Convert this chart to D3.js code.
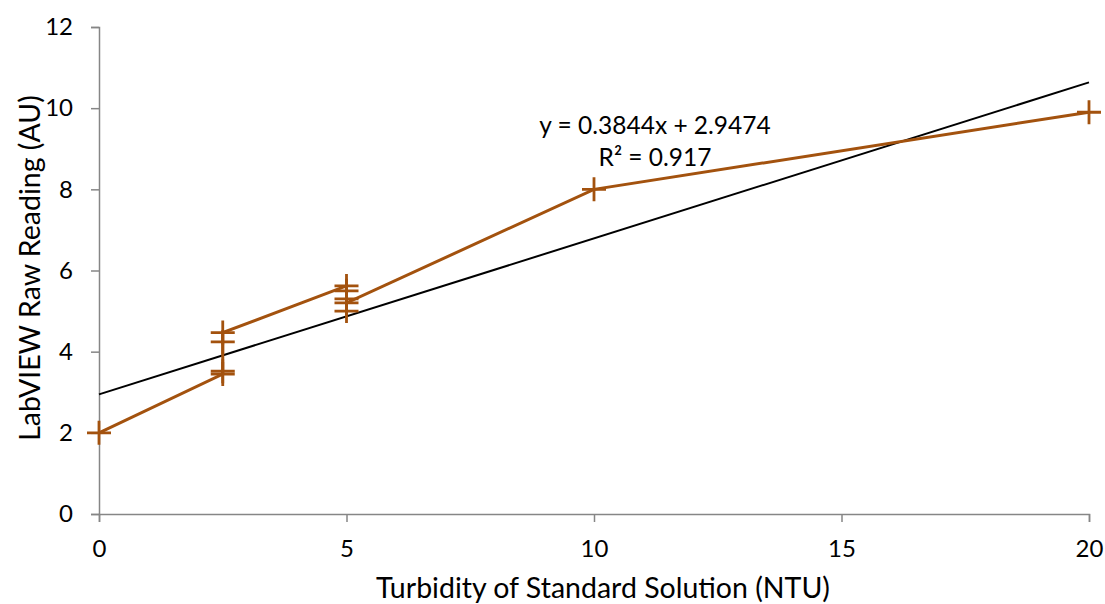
<!DOCTYPE html>
<html>
<head>
<meta charset="utf-8">
<script src="https://cdn.jsdelivr.net/npm/d3@7"></script>
<style>
  html, body { margin: 0; padding: 0; background: #fff; }
  svg text { font-family: Lato, "Open Sans", sans-serif; fill: #000; }
</style>
</head>
<body>
<svg id="chart" width="1105" height="604"></svg>
<script>
// Turbidity standards (NTU) and the matching LabVIEW raw readings, in run order
const turbidity = [0, 2.5, 2.5, 2.5, 2.5, 5, 5, 5, 5, 5, 10, 20];
const rawReading = [2.0, 3.45, 3.52, 4.24, 4.47, 5.62, 5.5, 5.3, 5.0, 5.2, 8.0, 9.9];

// Linear trendline reported on the chart
const trendSlope = 0.3844;
const trendIntercept = 2.9474;
const trendR2 = 0.917;

const xTicks = [0, 5, 10, 15, 20];
const yTicks = [0, 2, 4, 6, 8, 10, 12];

const svg = d3.select("#chart");
const margin = { left: 99, right: 16, top: 27, bottom: 90 };
const W = 1105, H = 604;

const x = d3.scaleLinear().domain([0, 20]).range([margin.left, W - margin.right]);
const y = d3.scaleLinear().domain([0, 12]).range([H - margin.bottom, margin.top]);

const axisColor = "#868686";
const seriesColor = "#A3520E";

// Y axis
const yAxis = svg.append("g")
  .attr("transform", `translate(${x(0)},0)`)
  .call(d3.axisLeft(y).tickValues(yTicks).tickSize(8).tickPadding(18).tickFormat(d3.format("d")));
yAxis.select(".domain").attr("stroke", axisColor).attr("stroke-width", 1.5);
yAxis.selectAll(".tick line").attr("stroke", axisColor).attr("stroke-width", 1.5);
yAxis.selectAll(".tick text").attr("font-size", 24).attr("font-family", "Lato, sans-serif");

// X axis
const xAxis = svg.append("g")
  .attr("transform", `translate(0,${y(0)})`)
  .call(d3.axisBottom(x).tickValues(xTicks).tickSize(8).tickPadding(18).tickFormat(d3.format("d")));
xAxis.select(".domain").attr("stroke", axisColor).attr("stroke-width", 1.5);
xAxis.selectAll(".tick line").attr("stroke", axisColor).attr("stroke-width", 1.5);
xAxis.selectAll(".tick text").attr("font-size", 24).attr("font-family", "Lato, sans-serif");

// Axis titles
svg.append("text")
  .attr("x", 603)
  .attr("y", 598)
  .attr("text-anchor", "middle")
  .attr("font-size", 28.5)
  .text("Turbidity of Standard Solution (NTU)");

svg.append("text")
  .attr("transform", `translate(40,268) rotate(-90)`)
  .attr("text-anchor", "middle")
  .attr("font-size", 28.5)
  .text("LabVIEW Raw Reading (AU)");

// Trendline
svg.append("line")
  .attr("x1", x(0)).attr("y1", y(trendIntercept))
  .attr("x2", x(20)).attr("y2", y(trendSlope * 20 + trendIntercept))
  .attr("stroke", "#000").attr("stroke-width", 2);

// Data series line
const pts = turbidity.map((t, i) => [t, rawReading[i]]);
svg.append("path")
  .datum(pts)
  .attr("fill", "none")
  .attr("stroke", seriesColor)
  .attr("stroke-width", 3)
  .attr("d", d3.line().x(d => x(d[0])).y(d => y(d[1])));

// Plus markers
const m = 12;
const marks = svg.append("g").attr("stroke", seriesColor).attr("stroke-width", 2.8);
marks.selectAll("path.mk")
  .data(pts)
  .join("path")
  .attr("class", "mk")
  .attr("fill", "none")
  .attr("d", d => {
    const cx = x(d[0]), cy = y(d[1]);
    return `M${cx - m},${cy}H${cx + m}M${cx},${cy - m}V${cy + m}`;
  });

// Trendline equation label
const eq = svg.append("text").attr("text-anchor", "middle").attr("font-size", 24.5);
eq.append("tspan").attr("x", 655).attr("y", 134)
  .text(`y = ${trendSlope}x + ${trendIntercept}`);
eq.append("tspan").attr("x", 655).attr("y", 166)
  .text(`R² = ${trendR2}`);
</script>
</body>
</html>
